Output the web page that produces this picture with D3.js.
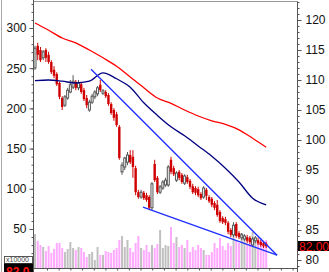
<!DOCTYPE html>
<meta charset="utf-8">

<head>
    <style>
        body { margin: 0; background: #fff; }
        .axis-label { font-family: "Liberation Sans", Arial, sans-serif; font-size: 12px; fill: #111; }
        .axis path, .axis line { stroke: #555; }
        .price-tag { font-family: "Liberation Sans", Arial, sans-serif; font-size: 12px; fill: #ff1010; }
        .vol-tag { font-family: "Liberation Sans", Arial, sans-serif; font-size: 7px; fill: #444; }
    </style>
</head>

<div id="chart"></div>

<script src="https://d3js.org/d3.v7.min.js"></script>
<script>

    // candles (right axis units)
    const openV = [112.0,115.7,115.0,113.7,115.0,114.2,113.0,111.7,111.0,109.5,
        107.0,105.8,107.0,108.0,108.8,109.7,108.7,109.3,108.3,107.0,
        105.0,106.3,107.2,107.7,109.2,107.8,108.0,107.5,106.0,105.0,
        104.3,102.2,94.7,95.5,96.3,97.5,97.2,95.3,91.3,90.5,
        91.2,90.8,90.5,88.7,96.0,93.7,91.3,92.0,92.5,92.5,
        96.7,95.3,93.3,94.7,94.2,92.8,93.8,93.2,92.3,92.0,
        91.8,91.0,90.5,91.7,90.5,90.2,89.5,89.2,88.0,87.0,
        86.8,86.2,85.0,84.2,86.0,84.5,83.7,83.5,83.8,83.7,
        82.5,83.2,83.3,83.0,82.8,82.7];
    const closeV = [115.3,114.2,113.3,114.7,113.7,113.0,111.3,110.7,109.3,107.2,
        105.5,107.2,108.3,109.2,109.8,108.7,109.5,108.0,106.8,105.8,
        106.3,107.3,108.0,108.7,108.3,108.2,107.3,106.0,104.5,103.7,
        102.5,97.0,95.8,97.0,97.5,96.3,95.5,91.3,90.5,91.3,
        90.3,90.0,88.7,92.7,93.3,91.3,92.2,93.0,93.3,95.5,
        94.7,94.3,94.5,93.7,93.0,94.0,93.0,92.2,91.3,91.2,
        90.8,90.3,92.0,90.7,89.8,89.2,88.7,87.5,86.5,86.3,
        86.2,84.7,84.2,85.8,84.0,83.8,84.2,84.0,83.2,83.0,
        83.5,83.7,82.8,82.5,82.3,82.3];
    const highV = [115.7,116.2,115.5,115.0,115.3,114.7,113.3,112.3,111.3,109.7,
        107.3,107.5,108.7,110.0,110.8,110.0,110.0,109.7,108.7,107.5,
        106.7,107.7,108.3,109.0,110.0,108.5,108.3,107.8,106.3,105.3,
        104.7,102.5,96.3,97.2,98.0,98.3,98.3,95.7,91.7,91.7,
        91.5,91.2,90.8,93.0,96.7,94.0,92.5,93.3,93.7,95.8,
        97.2,95.7,94.8,95.0,94.5,94.3,94.2,93.5,92.7,92.3,
        92.2,91.3,92.3,92.0,90.8,90.5,89.8,90.0,88.3,87.3,
        87.2,86.5,85.3,86.3,86.3,84.8,84.5,84.3,84.2,84.0,
        83.8,84.0,83.7,83.3,83.2,83.0];
    const lowV = [111.7,113.3,113.0,113.3,113.0,112.7,111.0,110.3,109.0,106.8,
        105.0,105.5,106.7,107.8,108.5,108.3,108.3,107.7,106.5,105.3,
        104.7,106.0,106.8,107.3,108.0,107.5,107.0,105.7,104.2,103.2,
        102.2,96.7,94.2,95.0,95.8,96.0,93.7,90.8,90.2,90.2,
        90.0,89.7,88.3,88.3,93.0,91.0,91.0,91.7,92.2,92.2,
        94.3,94.0,93.0,93.3,92.7,92.5,92.7,91.8,91.0,90.8,
        90.5,90.0,90.2,90.0,89.5,88.8,88.3,87.2,86.2,86.0,
        85.8,84.3,83.8,83.8,83.7,83.5,83.3,83.2,82.8,82.7,
        82.2,82.8,82.5,82.2,82.0,82.0];
    // volume, x10000
    const volume = [34,27,23,21,17,22,15,19,25,25,
        20,16,19,26,20,18,21,20,16,11,
        14,16,8,21,13,13,17,16,15,18,
        20,28,32,21,28,20,16,25,32,20,
        18,23,16,23,20,24,38,20,23,22,
        41,25,31,21,23,20,28,16,21,18,
        23,20,18,13,13,16,25,20,30,22,
        18,25,22,38,27,25,35,30,24,28,
        36,30,26,30,27,28];

    // moving averages sampled every 5 sessions
    const maIdx = [0,5,10,15,20,25,30,35,40,45,50,55,60,65,70,75,80,85];
    const maLong = [119.5,118.3,117.0,116.2,115.0,113.7,112.3,110.5,108.7,107.0,106.1,105.0,104.0,103.2,102.6,101.7,100.3,98.8];
    const maMid = [109.9,110.0,109.8,109.5,109.8,111.2,110.2,108.8,106.2,104.1,102.2,100.7,99.0,97.3,95.3,93.0,90.3,89.2];

    // wedge trend lines [session, price]
    const trendUpper = [[20.6, 111.8], [89, 80.8]];
    const trendLower = [[39.7, 88.8], [89, 80.8]];

    const leftTicks = [50, 100, 150, 200, 250, 300];
    const rightTicks = [80, 85, 90, 95, 100, 105, 110, 115, 120];
    const dateTicks = [4.4,8.7,13,17.3,21.6,25.9,30.2,34.5,38.8,43.1,47.4,51.7,56,60.3,64.6,68.9,73.2,77.5,81.8,86.1,90.4,94.7];
    const lastPrice = 82;

    const W = 329, H = 272;
    const plot = { left: 33.5, right: 297.5, top: 1.5, bottom: 268.5 };

    const svg = d3.select("#chart")
        .append("svg")
        .attr("width", W)
        .attr("height", H);

    const x = d3.scaleLinear().domain([0, 85]).range([35, 266.2]);
    const yR = d3.scaleLinear().domain([80, 120]).range([260, 20]);
    const yL = d3.scaleLinear().domain([50, 300]).range([229, 28]);
    const yV = d3.scaleLinear().domain([0, 40]).range([268, 228]);

    svg.append("clipPath").attr("id", "clip")
        .append("rect")
        .attr("x", plot.left).attr("y", plot.top)
        .attr("width", plot.right - plot.left).attr("height", plot.bottom - plot.top);

    // frame
    svg.append("line").attr("x1", 1.5).attr("x2", 1.5).attr("y1", 0).attr("y2", H).attr("stroke", "#aaa");
    svg.append("line").attr("x1", plot.left).attr("x2", plot.right).attr("y1", plot.top).attr("y2", plot.top).attr("stroke", "#999");

    const g = svg.append("g").attr("clip-path", "url(#clip)");

    const up = i => closeV[i] >= openV[i];

    // volume bars
    g.selectAll("rect.vol")
        .data(volume)
        .enter()
        .append("rect")
        .attr("class", "vol")
        .attr("x", (d, i) => x(i) - 1)
        .attr("y", d => yV(d))
        .attr("width", 2)
        .attr("height", d => yV(0) - yV(d))
        .attr("fill", (d, i) => up(i) ? "#c0c0c0" : "#ffaaff");

    // wicks
    g.selectAll("line.wick")
        .data(openV)
        .enter()
        .append("line")
        .attr("x1", (d, i) => x(i))
        .attr("x2", (d, i) => x(i))
        .attr("y1", (d, i) => yR(highV[i]))
        .attr("y2", (d, i) => yR(lowV[i]))
        .attr("stroke", (d, i) => up(i) ? "#555" : "#d00000")
        .attr("stroke-width", 1);

    // bodies
    g.selectAll("rect.body")
        .data(openV)
        .enter()
        .append("rect")
        .attr("x", (d, i) => x(i) - (up(i) ? 1 : 1.2))
        .attr("y", (d, i) => yR(Math.max(openV[i], closeV[i])))
        .attr("width", (d, i) => up(i) ? 2 : 2.4)
        .attr("height", (d, i) => Math.max(1, Math.abs(yR(openV[i]) - yR(closeV[i]))))
        .attr("fill", (d, i) => up(i) ? "#fff" : "#d00000")
        .attr("stroke", (d, i) => up(i) ? "#555" : "none")
        .attr("stroke-width", 1);

    // moving averages
    const maLine = d3.line()
        .x((d, i) => x(maIdx[i]))
        .y(d => yR(d))
        .curve(d3.curveMonotoneX);
    g.append("path").attr("d", maLine(maLong))
        .attr("fill", "none").attr("stroke", "#ff0000").attr("stroke-width", 1.3);
    g.append("path").attr("d", maLine(maMid))
        .attr("fill", "none").attr("stroke", "#000080").attr("stroke-width", 1.3);

    // trend lines
    const tLine = d3.line().x(d => x(d[0])).y(d => yR(d[1]));
    [trendUpper, trendLower].forEach(t => {
        g.append("path").attr("d", tLine(t))
            .attr("fill", "none").attr("stroke", "#2030ff").attr("stroke-width", 1.4);
    });

    // left axis
    const leftMinor = d3.range(10, 331, 10).filter(v => yL(v) > plot.top && yL(v) < plot.bottom);
    svg.append("g")
        .attr("class", "axis")
        .attr("transform", "translate(" + plot.left + ",0)")
        .call(d3.axisLeft(yL).tickValues(leftMinor).tickSize(2).tickFormat(""))
        .call(a => a.select(".domain").remove());
    svg.append("g")
        .attr("class", "axis")
        .attr("transform", "translate(" + plot.left + ",0)")
        .call(d3.axisLeft(yL).tickValues(leftTicks).tickSize(4).tickPadding(3))
        .call(a => a.select(".domain").remove())
        .call(a => a.selectAll("text").attr("class", "axis-label").attr("fill", null));
    svg.append("line").attr("x1", plot.left).attr("x2", plot.left)
        .attr("y1", 0).attr("y2", H).attr("stroke", "#555");

    // right axis
    const rightMinor = d3.range(79, 124, 1).filter(v => yR(v) > plot.top && yR(v) < plot.bottom);
    svg.append("g")
        .attr("class", "axis")
        .attr("transform", "translate(" + plot.right + ",0)")
        .call(d3.axisRight(yR).tickValues(rightMinor).tickSize(2).tickFormat(""))
        .call(a => a.select(".domain").remove());
    svg.append("g")
        .attr("class", "axis")
        .attr("transform", "translate(" + plot.right + ",0)")
        .call(d3.axisRight(yR).tickValues(rightTicks).tickSize(4).tickPadding(4))
        .call(a => a.select(".domain").remove())
        .call(a => a.selectAll("text").attr("class", "axis-label").attr("fill", null));
    svg.append("line").attr("x1", plot.right).attr("x2", plot.right)
        .attr("y1", plot.top).attr("y2", H).attr("stroke", "#555");

    // bottom axis
    svg.append("g")
        .attr("class", "axis")
        .attr("transform", "translate(0," + plot.bottom + ")")
        .call(d3.axisBottom(x).tickValues(dateTicks).tickSize(2).tickFormat(""))
        .call(a => a.select(".domain").attr("d", "M" + plot.left + ",0H" + plot.right).attr("stroke", "#888"));

    // last price tag on right
    svg.append("rect").attr("x", 298).attr("y", yR(lastPrice) - 7).attr("width", 31).attr("height", 10).attr("fill", "#000");
    svg.append("text").attr("class", "price-tag").attr("x", 299).attr("y", yR(lastPrice) + 2.5).text(d3.format(".2f")(lastPrice));

    // volume multiplier and price box on left
    svg.append("rect").attr("x", 4.5).attr("y", 256.5).attr("width", 28).attr("height", 7)
        .attr("fill", "#fff").attr("stroke", "#555");
    svg.append("text").attr("class", "vol-tag").attr("x", 6).attr("y", 262)
        .text("x10000");
    svg.append("rect").attr("x", 4).attr("y", 263.5).attr("width", 29).attr("height", 10).attr("fill", "#000");
    svg.append("text").attr("class", "price-tag").attr("x", 6).attr("y", 276)
        .attr("font-weight", "bold").text(d3.format(".1f")(lastPrice));

</script>
